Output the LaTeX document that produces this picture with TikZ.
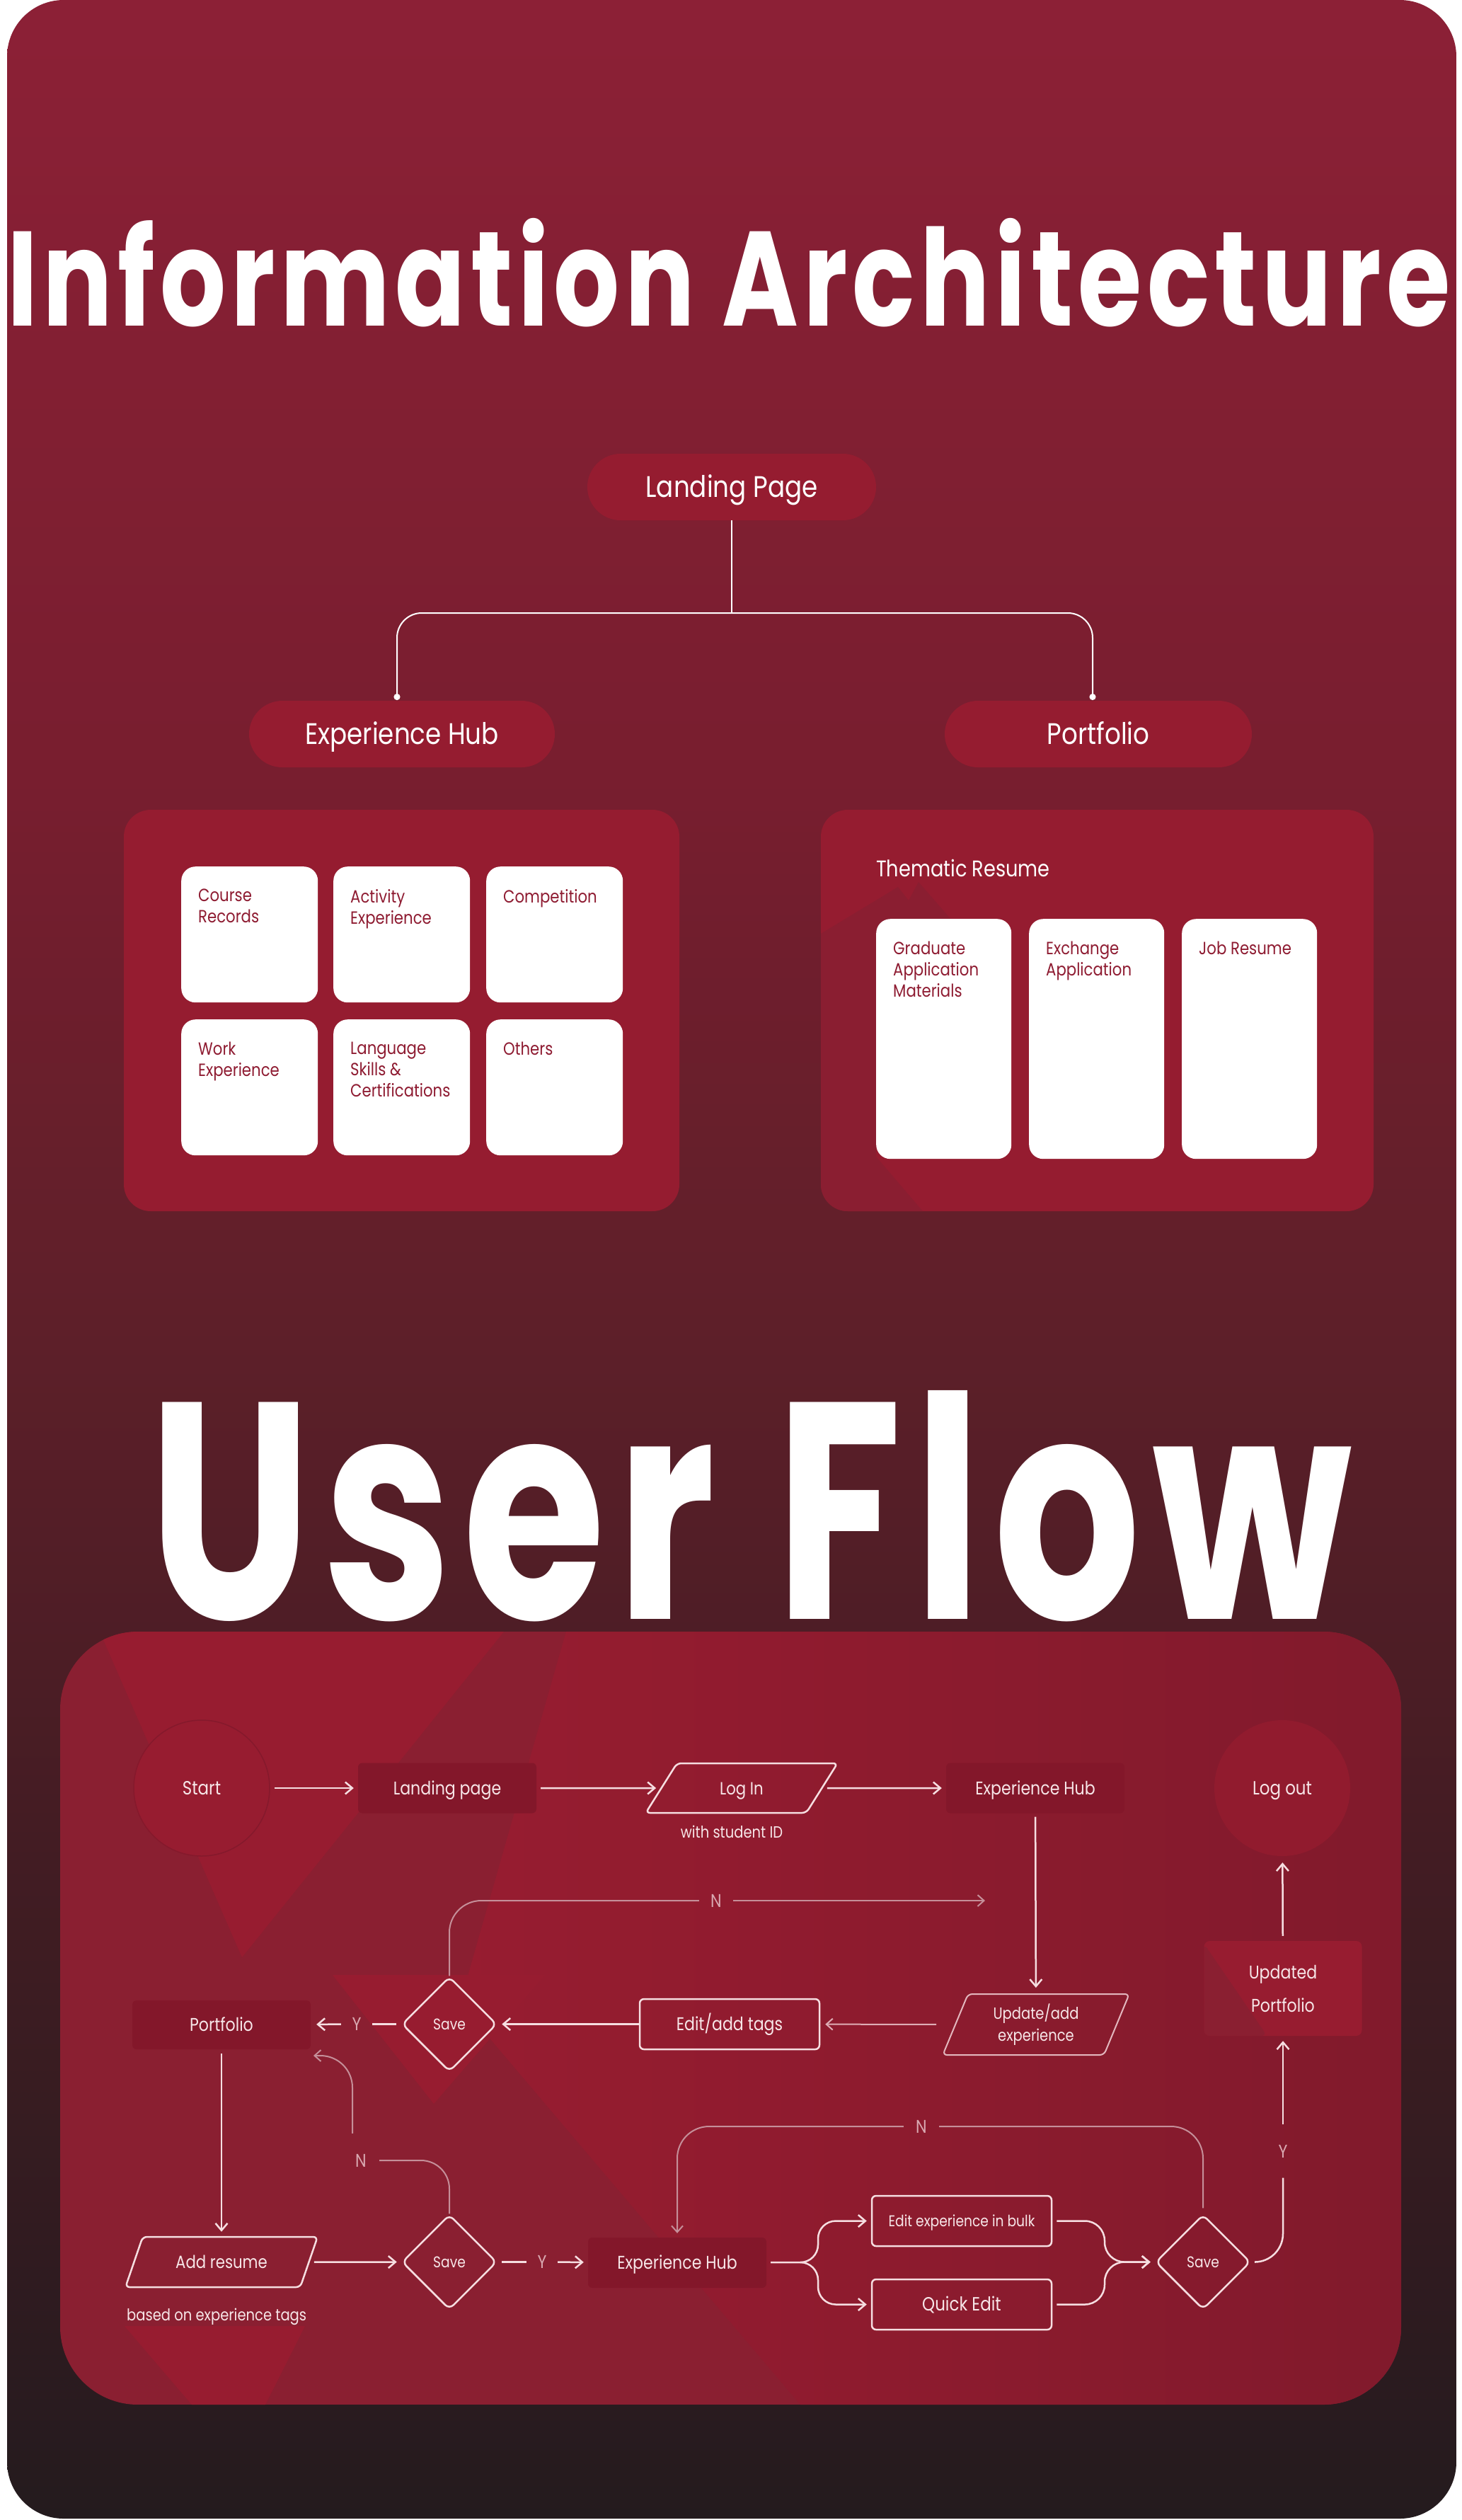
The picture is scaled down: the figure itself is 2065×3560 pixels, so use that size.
\documentclass[tikz,border=0pt]{standalone}
\usepackage{fontspec}
\setmainfont{Poppins}[FakeStretch=0.85]
\newfontfamily\titlefont{Poppins}[LetterSpace=5]
\usetikzlibrary{arrows.meta,shapes.geometric}
\definecolor{bgA}{HTML}{8C2036}
\definecolor{bgB}{HTML}{781E2F}
\definecolor{bgC}{HTML}{5D1F29}
\definecolor{bgD}{HTML}{431C23}
\definecolor{bgE}{HTML}{241B1E}
\definecolor{iaRed}{HTML}{951C30}
\definecolor{iaDeco}{HTML}{8A1E31}
\definecolor{cardText}{HTML}{8E1B31}
\definecolor{flowLight}{HTML}{971C30}
\definecolor{flowDark}{HTML}{8A1F31}
\definecolor{flowRight}{HTML}{811A2C}
\definecolor{boxDark}{HTML}{83172A}
\definecolor{lineW}{HTML}{F6DEE1}
\definecolor{lineN}{HTML}{C58F99}
\definecolor{txtW}{HTML}{F7E6E8}
\definecolor{lblC}{HTML}{D9A9B1}
\definecolor{startEdge}{HTML}{85192C}
\newcommand\fsz[2]{\fontsize{#1pt}{#2pt}\selectfont}
\begin{document}
\begin{tikzpicture}[x=1pt,y=-1pt,
  pill/.style={fill=iaRed, rounded corners=47pt, minimum height=94pt, inner sep=0pt, text=white, font=\fsz{42}{50}, text height=29pt, text depth=0pt},
  iabox/.style={fill=iaRed, rounded corners=38pt, inner sep=0pt},
  ialine/.style={draw=white, line width=2pt},
  card/.style={fill=white, rounded corners=20pt, inner sep=0pt, anchor=north west},
  cardtext/.style={anchor=north west, inner sep=0pt, align=left, text=cardText, font=\fsz{25}{30}},
  fbox/.style={fill=boxDark, rounded corners=6pt, minimum width=252pt, minimum height=71pt, inner sep=0pt, text=txtW, font=\fsz{26}{31}, text height=18pt, text depth=0pt},
  obox/.style={draw=lineW, line width=2.5pt, rounded corners=6pt, minimum width=254pt, minimum height=71pt, inner sep=0pt, text=txtW, font=\fsz{26}{31}, text height=18pt, text depth=0pt},
  dia/.style={diamond, draw=lineW, line width=2.5pt, rounded corners=8pt, minimum width=134pt, minimum height=134pt, inner sep=0pt, text=txtW, font=\fsz{22}{26}, text height=15pt, text depth=0pt},
  para/.style={trapezium, trapezium stretches=true, draw=lineW, line width=2.5pt, rounded corners=6pt, inner sep=0pt, text=txtW, font=\fsz{25}{30}},
  circ/.style={circle, minimum size=192pt, inner sep=0pt, fill=flowLight, text=txtW, font=\fsz{27}{32}, text height=19pt, text depth=0pt},
  lbl/.style={inner sep=0pt, text=lblC, font=\fsz{26}{30}, text height=18pt, text depth=0pt},
  flowline/.style={draw=lineW, line width=2.5pt, shorten >=6pt, shorten <=6pt},
  flow/.style={flowline, -{Straight Barb[length=10pt,width=17pt]}},
  nline/.style={draw=lineN, line width=2pt},
  nflow/.style={nline, -{Straight Barb[length=9pt,width=16pt]}, shorten >=6pt}
]
\useasboundingbox (0,0) rectangle (2065,3560);
\fill[white] (0,0) rectangle (2065,3560);

% ---------- card background ----------
\begin{scope}
\clip[rounded corners=80pt] (10,0) rectangle (2058,3558);
\shade[top color=bgA, bottom color=bgB] (10,0) rectangle (2058,1101);
\shade[top color=bgB, bottom color=bgC] (10,1100) rectangle (2058,1901);
\shade[top color=bgC, bottom color=bgD] (10,1900) rectangle (2058,2601);
\shade[top color=bgD, bottom color=bgE] (10,2600) rectangle (2058,3558);
\node[anchor=base west, inner sep=0pt, text=white] (iatitle) at (10,460)
  {\resizebox{2038pt}{152pt}{\titlefont\bfseries Information Architecture}};
\node[anchor=base west, inner sep=0pt, text=white] (uftitle) at (210,2287)
  {\resizebox{1700pt}{322pt}{\titlefont\bfseries User Flow}};
\end{scope}

% ---------- Information architecture ----------
\node[pill, minimum width=408pt] (lp) at (1034,688) {Landing Page};
\node[pill, minimum width=432pt] (eh) at (568,1037) {Experience Hub};
\node[pill, minimum width=434pt] (pf) at (1552,1037) {Portfolio};
\coordinate (junc) at (1034,866);
\coordinate (ehtop) at (561,989);
\coordinate (pftop) at (1544,989);
\draw[ialine] (lp.south) -- (junc);
\draw[ialine, rounded corners=35pt, -{Circle[length=9pt]}] (junc) -| (ehtop);
\draw[ialine, rounded corners=35pt, -{Circle[length=9pt]}] (junc) -| (pftop);

\node[iabox, minimum width=785pt, minimum height=567pt] (ehbox) at (567.5,1427.5) {};
\node[iabox, minimum width=781pt, minimum height=567pt] (pfbox) at (1550.5,1427.5) {};
\begin{scope}
\clip[rounded corners=38pt] (1160,1144) rectangle (1941,1711);
\fill[iaDeco] (1160,1319) -- (1269,1253) -- (1284,1272) -- (1298,1246) -- (1345,1300)
  -- (1345,1420) -- (1238,1600) -- (1238,1634) -- (1304,1711) -- (1160,1711) -- cycle;
\end{scope}

\node[card, minimum width=193pt, minimum height=192pt] (c1) at (256,1224) {};
\node[card, minimum width=193pt, minimum height=192pt] (c2) at (471,1224) {};
\node[card, minimum width=193pt, minimum height=192pt] (c3) at (687,1224) {};
\node[card, minimum width=193pt, minimum height=192pt] (c4) at (256,1440) {};
\node[card, minimum width=193pt, minimum height=192pt] (c5) at (471,1440) {};
\node[card, minimum width=193pt, minimum height=192pt] (c6) at (687,1440) {};
\node[cardtext] (c1t) at ([shift={(24,32)}]c1.north west) {Course\\Records};
\node[cardtext] (c2t) at ([shift={(24,32)}]c2.north west) {Activity\\Experience};
\node[cardtext] (c3t) at ([shift={(24,32)}]c3.north west) {Competition};
\node[cardtext] (c4t) at ([shift={(24,32)}]c4.north west) {Work\\Experience};
\node[cardtext] (c5t) at ([shift={(24,32)}]c5.north west) {Language\\Skills \&\\Certifications};
\node[cardtext] (c6t) at ([shift={(24,32)}]c6.north west) {Others};

\node[anchor=base west, inner sep=0pt, text=white, font=\fsz{32}{38}] (thres) at (1238,1238) {Thematic Resume};
\node[card, minimum width=191pt, minimum height=339pt] (r1) at (1238,1298) {};
\node[card, minimum width=191pt, minimum height=339pt] (r2) at (1454,1298) {};
\node[card, minimum width=191pt, minimum height=339pt] (r3) at (1670,1298) {};
\node[cardtext] (r1t) at ([shift={(24,32)}]r1.north west) {Graduate\\Application\\Materials};
\node[cardtext] (r2t) at ([shift={(24,32)}]r2.north west) {Exchange\\Application};
\node[cardtext] (r3t) at ([shift={(24,32)}]r3.north west) {Job Resume};

% ---------- User flow panel ----------
\begin{scope}
\clip[rounded corners=110pt] (85,2305) rectangle (1980,3397);
\fill[flowDark] (85,2305) rectangle (1980,3397);
\shade[left color=flowLight, right color=flowRight] (1131,3397) -- (650,2830) -- (800,2305) -- (1980,2305) -- (1980,3397) -- cycle;
\fill[flowLight] (141,2305) -- (712,2305) -- (342,2765) -- cycle;
\fill[flowLight] (470,2790) -- (770,2790) -- (613,2972) -- cycle;
\fill[flowLight] (176,3286) -- (431,3286) -- (375,3397) -- (271,3397) -- cycle;
\end{scope}

% nodes
\node[circ, draw=startEdge, line width=1.5pt] (start) at (285,2526) {Start};
\node[fbox] (landing) at (632,2526) {Landing page};
\node[para, trapezium left angle=50.4, trapezium right angle=129.6, minimum width=272pt, minimum height=70pt, text height=18pt, text depth=0pt] (login) at (1048,2526) {Log In};
\node[inner sep=0pt, text=txtW, font=\fsz{23}{28}] (sid) at (1034,2588) {with student ID};
\node[fbox] (exphubA) at (1463,2526) {Experience Hub};
\node[circ, fill=flowLight!96!black] (logout) at (1812,2526) {Log out};

\node[fill=flowLight, rounded corners=8pt, minimum width=223pt, minimum height=134pt, inner sep=0pt, align=center, text=txtW, font=\fsz{26}{47},
  path picture={\fill[flowDark] ([yshift=-4pt]path picture bounding box.north west) -- (path picture bounding box.south west) -- ([xshift=89pt]path picture bounding box.south west) -- cycle;}] (updport) at (1813,2809) {Updated\\Portfolio};

\node[para, draw=lineW!80!flowLight, line width=2pt, trapezium left angle=69, trapezium right angle=111, minimum width=264pt, minimum height=86pt, align=center, font=\fsz{23}{31}] (update) at (1464,2860) {Update/add\\experience};
\node[obox] (edittags) at (1031,2859.5) {Edit/add tags};
\node[dia] (save1) at (635,2859.5) {Save};
\node[fbox, minimum height=69pt] (portfolio) at (313,2860.5) {Portfolio};

\node[para, trapezium left angle=51.7, trapezium right angle=128.3, minimum width=272pt, minimum height=71pt, text height=18pt, text depth=0pt] (addresume) at (313,3195.5) {Add resume};
\node[anchor=west, inner sep=0pt, text=txtW, font=\fsz{23}{28}] (basedon) at (179,3273) {based on experience tags};
\node[dia] (save2) at (635,3195.5) {Save};
\node[fbox] (exphubB) at (957,3196.5) {Experience Hub};
\node[obox, font=\fsz{22}{26}, text height=16pt] (bulk) at (1359,3137.5) {Edit experience in bulk};
\node[obox, font=\fsz{27}{32}] (quick) at (1359,3255.5) {Quick Edit};
\node[dia] (save3) at (1700,3195.5) {Save};

% labels
\node[lbl, minimum width=44pt, minimum height=30pt] (y1) at (504,2859.5) {Y};
\node[lbl, minimum width=44pt, minimum height=30pt] (y2) at (766,3195.5) {Y};
\node[lbl, minimum width=30pt, minimum height=75pt] (y3) at (1813,3039) {Y};
\node[lbl, minimum width=48pt, minimum height=30pt] (n1) at (1012,2685) {N};
\node[lbl, minimum width=52pt, minimum height=76pt] (n2) at (510,3052) {N};
\node[lbl, minimum width=50pt, minimum height=30pt] (n3) at (1302,3004) {N};

% connectors
\draw[flow] (start) -- (landing);
\draw[flow] (landing) -- (login);
\draw[flow] (login) -- (exphubA);
\draw[flow, shorten <=5pt, shorten >=8pt] (exphubA) -- (update);
\draw[nflow, draw=lineW!75!flowLight, shorten <=26pt, shorten >=7pt] (update) -- (edittags);
\draw[flow, shorten <=0pt] (edittags) -- (save1);
\draw[flowline, shorten <=7pt, shorten >=0pt] (save1) -- (y1);
\draw[flow, shorten <=0pt, shorten >=8pt] (y1) -- (portfolio);
\draw[nline, rounded corners=45pt] (save1.north) |- (n1);
\coordinate (nend1) at (1392,2685);
\draw[nflow, shorten >=0pt] (n1) -- (nend1);

\draw[flow] (portfolio) -- (addresume);
\draw[flow] (addresume) -- (save2);
\draw[flowline, shorten >=0pt] (save2) -- (y2);
\draw[flow, shorten <=0pt] (y2) -- (exphubB);
\draw[nline, rounded corners=40pt] (save2.north) |- (n2);
\coordinate (pfin) at (443,2904);
\draw[nflow, rounded corners=45pt, shorten >=0pt] ([xshift=-12pt]n2.north) |- (pfin);
\draw[nline, rounded corners=45pt, shorten <=8pt] (save3.north) |- (n3);
\draw[nflow, rounded corners=45pt] (n3) -| (exphubB.north);

\coordinate (split) at (1131,3196);
\coordinate (sa) at (1156,3137.5);
\coordinate (sb) at (1156,3255.5);
\draw[flowline, shorten >=0pt] (exphubB) -- (split);
\draw[flow, rounded corners=25pt, shorten <=0pt] (split) -| (sa) -- (bulk);
\draw[flow, rounded corners=25pt, shorten <=0pt] (split) -| (sb) -- (quick);
\coordinate (mrg) at (1561,3195.5);
\draw[flow, rounded corners=28pt] (bulk) -| (mrg) -- (save3);
\draw[flow, rounded corners=28pt] (quick) -| (mrg) -- (save3);
\draw[flowline, rounded corners=40pt, shorten >=0pt] (save3) -| (y3);
\draw[flow, shorten <=0pt, shorten >=7pt] (y3) -- (updport);
\draw[flow, shorten <=7pt, shorten >=9pt] (updport) -- (logout);
\end{tikzpicture}
\end{document}
